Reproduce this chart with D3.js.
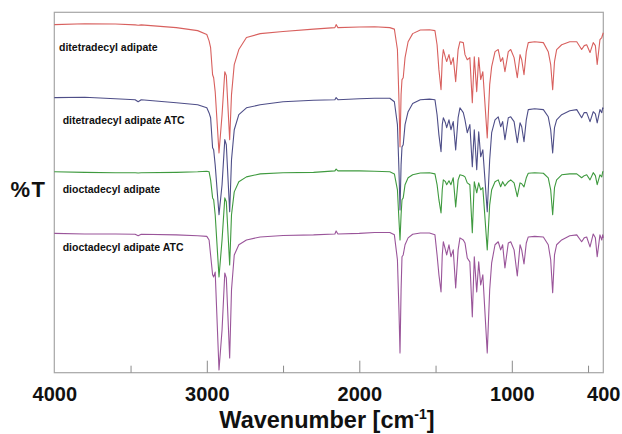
<!DOCTYPE html>
<html>
<head>
<meta charset="utf-8">
<script src="https://cdn.jsdelivr.net/npm/d3@7"></script>
<style>
  html, body { margin: 0; padding: 0; background: #fff; }
  svg { display: block; }
  text { font-family: "Liberation Sans", Arial, sans-serif; font-weight: bold; fill: #111; }
</style>
</head>
<body>
<svg id="chart" width="622" height="434"></svg>
<script>
// ---------- DATA ----------
const seriesNames = ["ditetradecyl adipate", "ditetradecyl adipate ATC", "dioctadecyl adipate", "dioctadecyl adipate ATC"];
const seriesColors = ["#d8605e", "#4e4e88", "#3f9a3f", "#9a559a"];
const xTickMajor = [3000, 2000, 1000];
const xTickMinor = [3500, 2500, 1500, 500];
const xTickLabels = [4000, 3000, 2000, 1000, 400];

const wavenumbers = [4000,3800,3600,3470,3450,3430,3200,3060,3000,2985,2975,2962,2955,2945,2920,2900,2882,2872,2850,2838,2820,2790,2740,2650,2500,2300,2160,2152,2140,2000,1900,1800,1770,1750,1740,1733,1726,1720,1712,1700,1680,1650,1600,1540,1504,1490,1478,1464,1456,1449,1435,1427,1412,1399,1384,1368,1352,1340,1318,1307,1292,1275,1259,1246,1230,1217,1204,1190,1161,1145,1132,1110,1089,1073,1060,1045,1023,1007,985,964,946,935,920,905,892,850,793,761,745,732,720,706,673,620,574,542,525,509,487,466,452,440,422,410,404,400];

const tDitetradecyl = [115.9,116.2,116.1,115.8,115.7,115.8,114.9,113.9,112.6,110.5,108.2,99.2,98.2,93.6,73.2,85.9,100.2,98.9,77.6,92.6,102.6,107.6,111.6,112.9,113.6,114.4,114.9,115.9,114.9,115.1,115.2,114.9,114.4,107.6,90.9,75.2,92.6,97.6,98.2,104.9,110.2,112.9,114.1,114.2,113.9,109.2,100.9,94.2,104.2,107.6,104.9,103.6,105.9,102.6,104.9,96.9,107.6,110.2,109.9,105.9,104.2,104.9,89.9,105.2,93.6,104.9,97.6,100.2,78.2,95.9,101.9,106.9,107.6,103.6,104.9,100.2,106.9,107.6,104.9,98.2,105.9,104.2,99.2,106.9,109.9,110.2,109.9,106.9,102.6,94.2,103.6,107.6,109.2,110.2,110.2,107.6,108.9,109.2,106.6,109.9,108.9,102.6,110.9,111.6,112.6,113.2];

const tDitetradecylATC = [91.6,91.7,91.2,90.9,90.2,90.9,89.9,89.2,88.2,86.5,84.9,74.9,74.2,69.2,52.6,62.6,77.6,75.9,53.6,70.9,80.9,85.9,88.2,89.2,90.2,90.7,90.9,91.6,90.9,91.2,91.4,91.4,90.2,82.6,67.6,54.2,69.2,75.2,75.9,82.6,86.9,89.6,90.9,91.1,90.9,85.9,79.2,73.6,82.6,84.9,83.2,81.6,84.2,80.9,83.6,74.2,84.9,88.2,86.6,84.2,79.9,82.6,68.6,80.9,67.6,80.2,71.9,74.2,53.6,70.9,79.9,84.2,85.2,81.9,83.6,77.6,84.9,85.2,83.6,76.6,83.2,81.9,76.9,84.2,87.6,87.9,87.6,85.2,80.9,73.2,81.6,84.2,85.9,87.2,87.6,84.9,86.6,86.6,83.6,86.9,86.2,83.2,87.6,86.6,88.2,87.9];

const tDioctadecyl = [66.9,66.7,66.6,66.6,66.5,66.6,66.7,66.9,67.1,66.9,64.2,58.2,57.6,52.6,31.9,44.2,58.2,56.9,35.9,52.6,60.2,63.6,65.2,66.2,66.6,66.7,67.2,67.8,67.2,67.2,67.1,66.9,66.2,60.9,50.9,44.2,52.6,57.6,58.2,62.6,64.9,65.9,66.5,66.6,66.2,62.6,57.6,53.2,60.9,64.2,63.6,62.6,63.9,62.6,64.9,55.2,64.2,65.9,65.6,65.2,63.2,62.6,46.6,63.6,59.9,63.2,60.9,61.6,40.9,55.9,60.9,63.6,64.2,61.9,63.6,62.2,63.6,64.2,63.2,58.6,63.2,62.9,61.9,64.9,66.4,66.6,66.4,64.9,60.9,52.6,61.6,64.2,65.9,66.2,66.2,64.9,65.6,65.9,64.2,66.6,65.6,62.6,65.9,65.2,66.9,67.0];

const tDioctadecylATC = [46.4,46.2,46.2,46.1,45.6,46.1,45.9,45.6,45.4,44.2,39.2,32.6,31.9,33.5,0.9,14.2,33.2,31.6,4.9,27.6,39.2,42.6,44.2,45.2,45.7,45.9,46.2,47.2,46.2,46.4,46.7,46.7,45.9,37.6,20.9,6.6,27.6,38.6,39.2,42.6,44.9,46.1,46.5,46.5,45.9,39.2,32.6,26.9,39.2,43.6,40.9,39.2,42.6,38.6,40.9,28.2,40.9,44.9,44.2,43.2,38.2,36.9,18.6,38.6,26.9,36.9,29.2,32.6,6.6,27.6,36.6,42.6,43.6,40.9,42.6,34.9,43.2,43.6,40.9,32.2,42.6,40.9,36.2,43.2,45.2,45.4,45.2,42.6,37.6,26.6,39.2,42.6,44.2,45.6,45.9,43.6,44.9,45.2,41.9,46.2,44.9,38.6,45.9,44.2,45.9,44.9];

const seriesValues = [tDitetradecyl, tDitetradecylATC, tDioctadecyl, tDioctadecylATC];

// ---------- LAYOUT ----------
const svg = d3.select("#chart");
const plot = { left: 54.3, right: 603.3, top: 12.3, bottom: 372.7 };

const x = d3.scaleLinear().domain([4000, 400]).range([plot.left, plot.right]);
const y = d3.scaleLinear().domain([0, 120]).range([plot.bottom, plot.top]);

// frame
svg.append("rect")
  .attr("x", plot.left).attr("y", plot.top)
  .attr("width", plot.right - plot.left).attr("height", plot.bottom - plot.top)
  .attr("fill", "none").attr("stroke", "#a6a6a6").attr("stroke-width", 1.2);

// ticks (inward)
const axisMajor = d3.axisBottom(x).tickValues(xTickMajor).tickSize(-12).tickFormat("");
const axisMinor = d3.axisBottom(x).tickValues(xTickMinor).tickSize(-7).tickFormat("");
[axisMajor, axisMinor].forEach(ax => {
  const g = svg.append("g").attr("transform", `translate(0,${plot.bottom})`).call(ax);
  g.select(".domain").remove();
  g.selectAll("line").attr("stroke", "#8a8a8a").attr("stroke-width", 1);
});

// tick labels
const labelAxis = d3.axisBottom(x).tickValues(xTickLabels).tickSize(0).tickPadding(0).tickFormat(d3.format("d"));
const lg = svg.append("g").attr("transform", `translate(0,${plot.bottom})`).call(labelAxis);
lg.select(".domain").remove();
lg.selectAll("text")
  .attr("y", 28.5).attr("dy", null)
  .style("font-family", "'Liberation Sans', Arial, sans-serif")
  .style("font-weight", "bold").style("font-size", "20px").attr("fill", "#111");

// spectra
const line = d3.line()
  .x((d, i) => x(wavenumbers[i]))
  .y(d => y(d));

seriesValues.forEach((vals, k) => {
  svg.append("path")
    .datum(vals)
    .attr("d", line)
    .attr("fill", "none")
    .attr("stroke", seriesColors[k])
    .attr("stroke-width", 1.1)
    .attr("stroke-linejoin", "round");
});

// series labels
const labelPos = [[59, 51], [62.7, 124], [62.7, 193.3], [62.7, 250.5]];
seriesNames.forEach((name, k) => {
  svg.append("text")
    .attr("x", labelPos[k][0]).attr("y", labelPos[k][1])
    .style("font-size", "10.5px")
    .text(name);
});

// y title
svg.append("text")
  .attr("x", 28.5).attr("y", 197)
  .attr("text-anchor", "middle")
  .style("font-size", "22px")
  .style("letter-spacing", "1.5px")
  .text("%T");

// x title
const xt = svg.append("text")
  .attr("x", 327).attr("y", 428)
  .attr("text-anchor", "middle")
  .style("font-size", "23.5px");
xt.append("tspan").text("Wavenumber [cm");
xt.append("tspan").attr("dy", -9).style("font-size", "14px").text("-1");
xt.append("tspan").attr("dy", 9).text("]");
</script>
</body>
</html>
